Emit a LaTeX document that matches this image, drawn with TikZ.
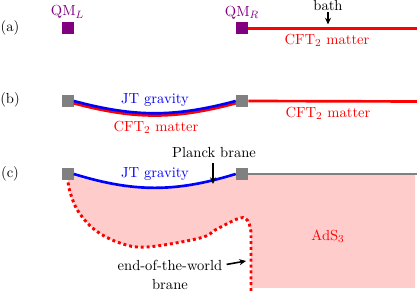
\documentclass[tikz,border=0pt,11pt]{standalone}
\usepackage{amsmath}
\usepackage{xcolor}
\usepackage{tikz}
\usetikzlibrary{arrows.meta, positioning, backgrounds}

\begin{document}
\begin{tikzpicture}[
  x=0.75pt, y=0.75pt,
  qm/.style={rectangle, fill=violet, minimum size=9pt, inner sep=0pt},
  endpt/.style={rectangle, fill=gray, minimum size=9pt, inner sep=0pt},
  cft/.style={red, line width=2pt},
  jt/.style={blue, line width=2pt},
  bdry/.style={gray, line width=1.6pt},
  brane/.style={red, line width=2.2pt, dash pattern=on 2.2pt off 2.2pt},
  arrow/.style={-{Stealth[length=5pt, width=4.5pt]}, line width=1.2pt},
]
  \useasboundingbox (0,0) rectangle (417,-291);

  % (a) two quantum dots, bath on the right
  \node (tagA) at (10,-28) {(a)};
  \node[qm] (qmL) at (67.5,-28) {};
  \node[qm] (qmR) at (242,-28.5) {};
  \node[violet, above=-1.5pt of qmL] (qmLlab) {QM$_L$};
  \node[violet, above=-1.5pt of qmR] (qmRlab) {QM$_R$};
  \coordinate (aEnd) at (417,-28.5);
  \draw[cft] (qmR.east) -- (aEnd);
  \node[red] (cftA) at (327,-40) {CFT$_2$ matter};
  \node[inner sep=1pt] (bath) at (328,-5.5) {bath};
  \coordinate (bathTip) at (328,-24.5);
  \draw[arrow] (bath) -- (bathTip);

  % (b) JT gravity + matter on the interval
  \node (tagB) at (10,-100) {(b)};
  \node[endpt] (sqBL) at (67.5,-101) {};
  \node[endpt] (sqBR) at (242,-101) {};
  \coordinate (bEnd) at (417,-101.5);
  \draw[cft] ([yshift=-1.7pt]sqBL.east) to[bend right=15] ([yshift=-1.7pt]sqBR.west);
  \draw[jt] (sqBL.east) to[bend right=15] (sqBR.west);
  \draw[cft] (sqBR.east) -- (bEnd);
  \node[blue] (jtB) at (155,-100) {JT gravity};
  \node[red] (cftBL) at (156,-127) {CFT$_2$ matter};
  \node[red] (cftBR) at (328,-113) {CFT$_2$ matter};

  % (c) bulk picture
  \node (tagC) at (10,-174) {(c)};
  \node[endpt] (sqCL) at (67.5,-174) {};
  \node[endpt] (sqCR) at (242,-174) {};
  \coordinate (cEnd) at (417,-174);
  \begin{scope}[on background layer]
    \fill[red!20] (sqCL.center) to[bend right=17] (sqCR.center) -- (415,-174) -- (415,-288) -- (251,-288)
      -- plot[smooth, tension=0.6] coordinates {(251,-232) (248,-221) (240,-218) (217,-229) (200,-238) (147,-247) (120,-243) (95,-230) (78,-211) (70,-192) (68,-180)} -- cycle;
  \end{scope}
  \draw[brane] (251,-291) -- plot[smooth, tension=0.6] coordinates {(251,-232) (248,-221) (240,-218) (217,-229) (200,-238) (147,-247) (120,-243) (95,-230) (78,-211) (70,-192) (68,-181)};
  \draw[jt] (sqCL.east) to[bend right=17] (sqCR.west);
  \draw[bdry] (sqCR.east) -- (cEnd);
  \node[blue] (jtC) at (155,-174) {JT gravity};
  \node (planck) at (214,-153) {Planck brane};
  \coordinate (planckTip) at (213,-184);
  \draw[arrow] (planck.south -| planckTip) -- (planckTip);
  \node[red] (ads) at (328,-236) {AdS$_3$};
  \node[align=center, inner sep=1pt] (eow) at (170,-275) {end-of-the-world\\brane};
  \coordinate (eowTip) at (246,-261);
  \draw[arrow] ([xshift=2pt, yshift=-4pt]eow.north east) -- (eowTip);
\end{tikzpicture}
\end{document}
